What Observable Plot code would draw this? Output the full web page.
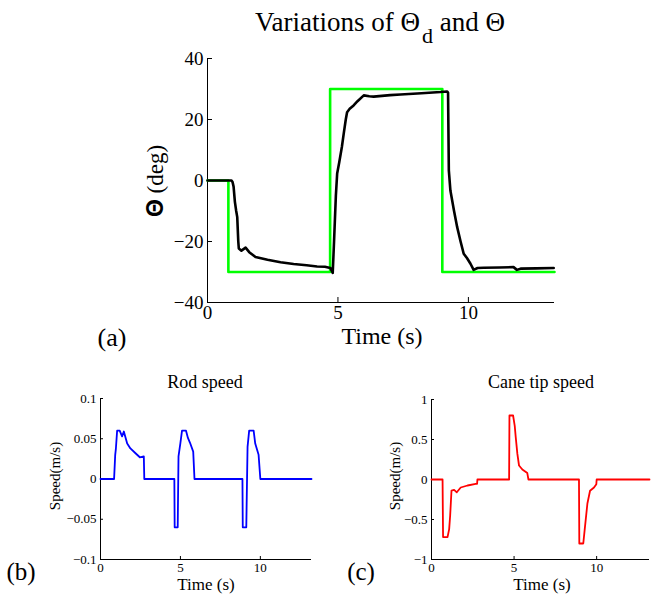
<!DOCTYPE html>
<html>
<head>
<meta charset="utf-8">
<script src="https://cdn.jsdelivr.net/npm/d3@7"></script>
<script src="https://cdn.jsdelivr.net/npm/@observablehq/plot@0.6"></script>
<style>
  html, body { margin: 0; padding: 0; background: #fff; }
  #root { position: relative; width: 658px; height: 599px; overflow: hidden; font-family: "Liberation Serif", "Times New Roman", serif; color: #000; }
  .pane { position: absolute; }
  .pane svg text { font-family: "Liberation Serif", "Times New Roman", serif; }
  .lbl { position: absolute; white-space: nowrap; line-height: 1; }
</style>
</head>
<body>
<div id="root"></div>
<script>
// ---------- data ----------
const timeTicksTop = [0, 5, 10];
const thetaTicks = [-40, -20, 0, 20, 40];
const rodTicks = [-0.1, -0.05, 0, 0.05, 0.1];
const caneTicks = [-1, -0.5, 0, 0.5, 1];

// desired angle Θd (deg)
const thetaDTime  = [0, 0.8, 0.8, 4.7, 4.7, 9.0, 9.0, 13.3];
const thetaDValue = [0, 0, -30, -30, 30, 30, -30, -30];

// measured angle Θ (deg)
const thetaTime = [0, 0.92, 0.96, 1.0, 1.05, 1.1, 1.14, 1.18, 1.2, 1.3, 1.46, 1.6, 1.84, 2.3, 2.8, 3.3, 3.8, 4.2, 4.5, 4.71, 4.8, 4.85, 4.92, 4.97, 5.05, 5.15, 5.22, 5.3, 5.35, 5.45, 5.6, 5.75, 5.99, 6.2, 6.37, 7.0, 7.4, 8.2, 8.93, 9.18, 9.22, 9.25, 9.31, 9.45, 9.57, 9.7, 9.82, 9.95, 10.08, 10.2, 10.35, 10.58, 11.2, 11.73, 11.86, 12.0, 12.6, 13.27];
const thetaValue = [0, 0, -0.5, -2, -7, -10, -12, -20, -22.3, -23, -22, -23.5, -25.1, -26, -26.8, -27.4, -27.8, -28.2, -28.3, -28.7, -30.3, -20, -5, 2.3, 6, 11, 15.3, 20, 22.4, 23.5, 24.6, 26, 27.9, 27.6, 27.5, 28, 28.2, 28.6, 29.0, 29.2, 28.8, 3.3, -3.3, -10, -15.3, -20, -24, -25.5, -27.3, -29.3, -28.7, -28.6, -28.5, -28.4, -29.3, -28.9, -28.8, -28.7];

// rod speed (m/s)
const rodTime  = [0, 0.85, 0.92, 0.96, 1.04, 1.2, 1.35, 1.46, 1.67, 1.87, 2.19, 2.46, 2.71, 2.74, 4.62, 4.64, 4.83, 4.88, 5.0, 5.1, 5.35, 5.47, 5.6, 5.8, 5.88, 8.88, 8.9, 9.12, 9.2, 9.3, 9.58, 9.68, 9.89, 10.0, 13.2];
const rodSpeed = [0, 0, 0.03, 0.037, 0.06, 0.06, 0.053, 0.059, 0.044, 0.038, 0.032, 0.027, 0.028, 0, 0, -0.06, -0.06, 0.028, 0.045, 0.06, 0.06, 0.051, 0.045, 0.034, 0, 0, -0.06, -0.06, 0.04, 0.06, 0.06, 0.044, 0.03, 0, 0];

// cane tip speed (m/s)
const caneTime  = [0, 0.67, 0.7, 0.97, 1.07, 1.13, 1.21, 1.37, 1.53, 1.77, 2.18, 2.68, 2.76, 2.78, 4.7, 4.72, 4.94, 5.04, 5.1, 5.2, 5.3, 5.5, 5.8, 5.87, 8.93, 8.95, 9.19, 9.27, 9.44, 9.6, 9.84, 9.98, 10.0, 13.2];
const caneSpeed = [0, 0, -0.72, -0.72, -0.62, -0.45, -0.14, -0.13, -0.16, -0.1, -0.075, -0.055, -0.055, 0, 0, 0.8, 0.8, 0.67, 0.53, 0.32, 0.175, 0.125, 0.08, 0, 0, -0.8, -0.8, -0.64, -0.3, -0.14, -0.1, -0.06, 0, 0];

// ---------- helpers ----------
const SERIF = "Liberation Serif";
const zipTV = (t, v) => t.map((x, i) => ({t: x, v: v[i]}));
const fmt = d => String(d).replace("-", "\u2212");
const root = document.getElementById("root");

function addPane(svg, left, top) {
  const d = document.createElement("div");
  d.className = "pane";
  d.style.left = left + "px";
  d.style.top = top + "px";
  d.appendChild(svg);
  root.appendChild(d);
}
function addLabel(html, x, y, size, opts = {}) {
  const d = document.createElement("div");
  d.className = "lbl";
  d.innerHTML = html;
  d.style.left = x + "px";
  d.style.top = y + "px";
  d.style.fontSize = size + "px";
  const rot = opts.rotate ? " rotate(-90deg)" : "";
  d.style.transform = "translate(-50%, -50%)" + rot;
  root.appendChild(d);
  return d;
}

function axes(yTicks, yMin, fontSize, tickLen) {
  return [
    Plot.ruleX([0], {stroke: "black", strokeWidth: 1}),
    Plot.ruleY([yMin], {stroke: "black", strokeWidth: 1}),
    Plot.axisY({ticks: yTicks, tickSize: 0, tickPadding: 4, tickFormat: fmt, label: null, fontSize, fontFamily: SERIF}),
    Plot.axisY({ticks: yTicks, tickSize: -tickLen, tickFormat: () => "", label: null}),
    Plot.axisX({ticks: timeTicksTop, tickSize: 0, tickPadding: 3, tickFormat: fmt, label: null, fontSize, fontFamily: SERIF}),
    Plot.axisX({ticks: timeTicksTop, tickSize: -tickLen, tickFormat: () => "", label: null})
  ];
}

// ---------- panel (a) ----------
const plotA = Plot.plot({
  width: 470, height: 300,
  marginLeft: 107, marginRight: 16, marginTop: 28, marginBottom: 28,
  x: {domain: [0, 13.3]},
  y: {domain: [-40, 40]},
  style: {fontFamily: SERIF, background: "transparent", color: "black", overflow: "visible"},
  marks: [
    ...axes(thetaTicks, -40, 19, 5),
    Plot.line(zipTV(thetaDTime, thetaDValue), {x: "t", y: "v", stroke: "#00ff00", strokeWidth: 2.6}),
    Plot.line(zipTV(thetaTime, thetaValue), {x: "t", y: "v", stroke: "black", strokeWidth: 2.6})
  ]
});
addPane(plotA, 100, 30);

// ---------- panel (b) ----------
const plotB = Plot.plot({
  width: 329, height: 239,
  marginLeft: 100, marginRight: 18, marginTop: 38, marginBottom: 40,
  x: {domain: [0, 13.2]},
  y: {domain: [-0.1, 0.1]},
  style: {fontFamily: SERIF, background: "transparent", color: "black", overflow: "visible"},
  marks: [
    ...axes(rodTicks, -0.1, 13, 3),
    Plot.line(zipTV(rodTime, rodSpeed), {x: "t", y: "v", stroke: "#0000ff", strokeWidth: 1.8})
  ]
});
addPane(plotB, 0, 360);

// ---------- panel (c) ----------
const plotC = Plot.plot({
  width: 329, height: 239,
  marginLeft: 102, marginRight: 9, marginTop: 39, marginBottom: 40,
  x: {domain: [0, 13.2]},
  y: {domain: [-1, 1]},
  style: {fontFamily: SERIF, background: "transparent", color: "black", overflow: "visible"},
  marks: [
    ...axes(caneTicks, -1, 13, 3),
    Plot.line(zipTV(caneTime, caneSpeed), {x: "t", y: "v", stroke: "#ff0000", strokeWidth: 1.8})
  ]
});
addPane(plotC, 329, 360);

// ---------- text ----------
addLabel('Variations of \u0398<span style="font-size:22px;position:relative;top:12px;margin-left:2px;">d</span> and \u0398', 380, 22, 27);
addLabel('<span style="font-family:\'Liberation Sans\';font-weight:bold;">\u0398</span> (deg)', 155, 181, 23, {rotate: true});
addLabel('Time (s)', 382, 336, 24);
addLabel('(a)', 112, 338, 26);

addLabel('Rod speed', 205, 382, 18);
addLabel('Speed(m/s)', 55, 476, 15, {rotate: true});
addLabel('Time (s)', 206, 584, 17);
addLabel('(b)', 21, 571, 25);

addLabel('Cane tip speed', 541, 382, 18);
addLabel('Speed(m/s)', 395, 476, 15, {rotate: true});
addLabel('Time (s)', 542, 584, 17);
addLabel('(c)', 361, 571, 25);
</script>
</body>
</html>
